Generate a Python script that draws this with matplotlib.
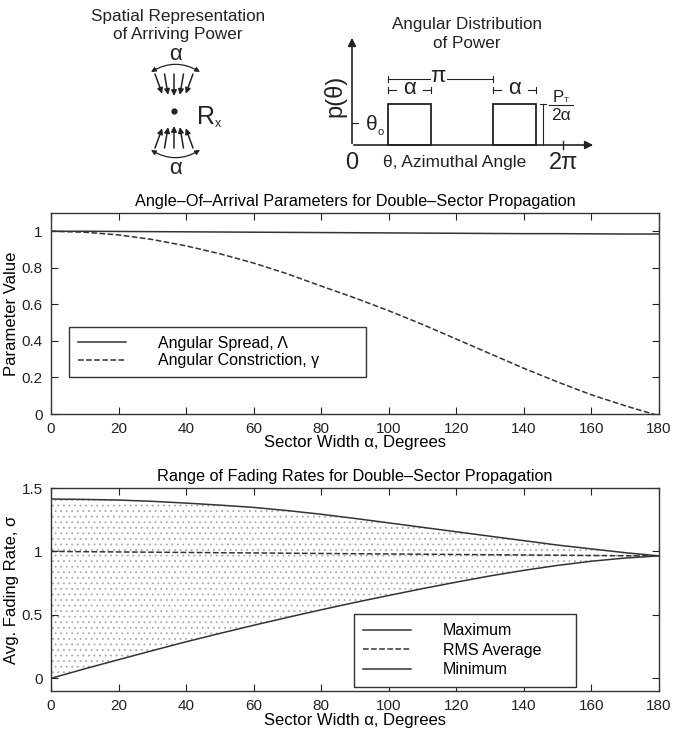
import numpy as np
import matplotlib
matplotlib.use('Agg')
import matplotlib.pyplot as plt
from matplotlib.patches import FancyArrowPatch, Rectangle

plt.rcParams['font.family'] = ['Liberation Sans', 'DejaVu Sans']
plt.rcParams['hatch.linewidth'] = 0.6

# sector width, degrees
sector_width = [0, 10, 20, 30, 40, 50, 60, 70, 80, 90, 100, 110, 120, 130, 140, 150, 160, 170, 180]

# angle-of-arrival parameters
angular_spread = [1.0, 1.0, 0.999, 0.998, 0.997, 0.996, 0.995, 0.994, 0.993, 0.992,
                  0.991, 0.99, 0.989, 0.988, 0.987, 0.987, 0.986, 0.985, 0.985]
angular_constriction = [1.0, 0.995, 0.98, 0.955, 0.92, 0.877, 0.826, 0.767, 0.70, 0.635,
                        0.565, 0.49, 0.41, 0.33, 0.25, 0.175, 0.105, 0.045, -0.01]

# fading rates
rate_max = [1.413, 1.41, 1.405, 1.395, 1.381, 1.365, 1.347, 1.322, 1.293, 1.26,
            1.225, 1.19, 1.155, 1.12, 1.085, 1.05, 1.02, 0.99, 0.965]
rate_rms = [1.0, 0.998, 0.996, 0.994, 0.992, 0.99, 0.988, 0.986, 0.984, 0.982,
            0.98, 0.978, 0.976, 0.974, 0.972, 0.970, 0.968, 0.966, 0.964]
rate_min = [0.0, 0.075, 0.147, 0.218, 0.288, 0.354, 0.418, 0.48, 0.54, 0.598,
            0.653, 0.707, 0.758, 0.807, 0.851, 0.89, 0.923, 0.948, 0.965]

xticks = [0, 20, 40, 60, 80, 100, 120, 140, 160, 180]

W, H = 673, 736
fig = plt.figure(figsize=(W / 100, H / 100), dpi=100)

# ---- schematic sketches drawn on a pixel-coordinate overlay ----
sk = fig.add_axes([0, 0, 1, 1])
sk.set_xlim(0, W)
sk.set_ylim(H, 0)
sk.axis('off')

ink = '#222222'
txt = dict(ha='center', va='center', color=ink)

# left: spatial representation
sk.text(178, 17, 'Spatial Representation', fontsize=12.3, **txt)
sk.text(178, 35, 'of Arriving Power', fontsize=12.3, **txt)
cx, cy = 174, 111
sk.plot(cx, cy, 'o', color=ink, ms=3.5)
sk.text(206, 117, 'R', fontsize=18, **txt)
sk.text(218, 124, 'x', fontsize=9, **txt)
for side in (-1, 1):
    for dx in (-19, -9.5, 0, 9.5, 19):
        tail = (cx + dx, cy + side * 37)
        head = (cx + dx * 0.62, cy + side * (15 + abs(dx) * 0.12))
        sk.annotate('', xy=head, xytext=tail,
                    arrowprops=dict(arrowstyle='-|>', lw=1.1, color=ink,
                                    mutation_scale=8, shrinkA=0, shrinkB=0))
    ya = cy + side * 39
    arc = FancyArrowPatch((151, ya), (200, ya), arrowstyle='<|-|>', mutation_scale=7,
                          connectionstyle='arc3,rad=%.2f' % (0.3 * side), lw=0.9, color=ink,
                          shrinkA=0, shrinkB=0)
    sk.add_patch(arc)
    sk.text(cx + 1, cy + side * 57, 'α', fontsize=16, **txt)

# right: angular distribution of power
ox, oy = 352, 145
scale = 211 / (2 * np.pi)
theta0 = 1.07
alpha = 1.28
box_h = 41
sk.text(467, 25, 'Angular Distribution', fontsize=12.3, **txt)
sk.text(467, 43, 'of Power', fontsize=12.3, **txt)
sk.annotate('', xy=(ox, 35), xytext=(ox, oy + 1),
            arrowprops=dict(arrowstyle='-|>', lw=1.2, color=ink, mutation_scale=12))
sk.annotate('', xy=(596, oy), xytext=(ox - 1, oy),
            arrowprops=dict(arrowstyle='-|>', lw=1.2, color=ink, mutation_scale=12))
for start in (theta0, theta0 + np.pi):
    sk.add_patch(Rectangle((ox + start * scale, oy - box_h), alpha * scale, box_h,
                           fill=False, lw=1.3, ec=ink))
x1 = ox + theta0 * scale
x2 = ox + (theta0 + np.pi) * scale
# pi dimension
sk.plot([x1, x1], [76, 82], color=ink, lw=0.8)
sk.plot([x2, x2], [76, 82], color=ink, lw=0.8)
sk.plot([x1, 430], [79, 79], color=ink, lw=0.8)
sk.plot([447, x2], [79, 79], color=ink, lw=0.8)
sk.text(438, 77, 'π', fontsize=16, **txt)
# alpha dimensions
for xs in (x1, x2):
    xe = xs + alpha * scale
    sk.plot([xs, xs], [87, 93], color=ink, lw=0.8)
    sk.plot([xe, xe], [87, 93], color=ink, lw=0.8)
    sk.plot([xs, xs + 8], [90, 90], color=ink, lw=0.8)
    sk.plot([xe - 8, xe], [90, 90], color=ink, lw=0.8)
    sk.text((xs + xe) / 2, 89, 'α', fontsize=16, **txt)
# theta0 dimension
sk.plot([ox, ox + 6], [123, 123], color=ink, lw=0.8)
sk.text(372, 124, 'θ', fontsize=15, **txt)
sk.text(381, 132, 'o', fontsize=8, **txt)
# P_T / 2 alpha
xp = 543
sk.plot([xp, xp], [oy - box_h, oy], color=ink, lw=0.8)
sk.plot([xp - 3, xp + 3], [oy - box_h, oy - box_h], color=ink, lw=0.8)
sk.text(558, 97, 'P', fontsize=12, **txt)
sk.text(566, 101, 'T', fontsize=6, **txt)
sk.plot([549, 573], [105, 105], color=ink, lw=0.8)
sk.text(561, 115, '2α', fontsize=12.5, **txt)
sk.plot([ox + 2 * np.pi * scale] * 2, [oy - 4, oy + 4], color=ink, lw=1)
sk.text(ox, 163, '0', fontsize=17, **txt)
sk.text(455, 162, 'θ, Azimuthal Angle', fontsize=12.5, **txt)
sk.text(564, 163, '2π', fontsize=17, **txt)
sk.text(335, 96, 'p(θ)', fontsize=17, rotation=90, **txt)


def style_axes(ax):
    ax.tick_params(direction='in', top=True, right=True, labelsize=11, length=5,
                   colors=ink, pad=6)
    for s in ax.spines.values():
        s.set_linewidth(1.0)
        s.set_color('#333333')
    ax.set_xlim(0, 180)
    ax.set_xticks(xticks)


leg_style = dict(loc='lower left', mode='expand', borderaxespad=0, fontsize=11.5,
                 frameon=True, fancybox=False, edgecolor='#333333', framealpha=1,
                 handlelength=3, handletextpad=2)

# ---- angle-of-arrival parameters ----
ax1 = fig.add_axes([51 / W, 1 - 414 / H, 608 / W, 201 / H])
ax1.plot(sector_width, angular_spread, '-', color='#333333', lw=1.1, label='Angular Spread, Λ')
ax1.plot(sector_width, angular_constriction, '--', color='#333333', lw=1.1, label='Angular Constriction, γ')
style_axes(ax1)
ax1.set_ylim(0, 1.1)
ax1.set_yticks([0, 0.2, 0.4, 0.6, 0.8, 1])
ax1.set_yticklabels(['0', '0.2', '0.4', '0.6', '0.8', '1'])
ax1.set_xlabel('Sector Width α, Degrees', fontsize=12, labelpad=-1)
ax1.set_ylabel('Parameter Value', fontsize=12, labelpad=2)
ax1.set_title('Angle–Of–Arrival Parameters for Double–Sector Propagation', fontsize=11.7, pad=5)
leg1 = ax1.legend(bbox_to_anchor=(0.03, 0.184, 0.488, 0.27), borderpad=0.55,
                  labelspacing=0.15, **leg_style)
leg1.get_frame().set_linewidth(1.0)

# ---- fading rates ----
ax2 = fig.add_axes([51 / W, 1 - 691 / H, 608 / W, 203 / H])
ax2.fill_between(sector_width, rate_min, rate_max, facecolor='none', edgecolor='#a8a8a8',
                 hatch='...', lw=0)
ax2.plot(sector_width, rate_max, '-', color='#333333', lw=1.1, label='Maximum')
ax2.plot(sector_width, rate_rms, '--', color='#333333', lw=1.1, label='RMS Average')
ax2.plot(sector_width, rate_min, '-', color='#333333', lw=1.1, label='Minimum')
style_axes(ax2)
ax2.set_ylim(-0.1, 1.5)
ax2.set_yticks([0, 0.5, 1, 1.5])
ax2.set_yticklabels(['0', '0.5', '1', '1.5'])
ax2.set_xlabel('Sector Width α, Degrees', fontsize=12, labelpad=0)
ax2.set_ylabel('Avg. Fading Rate, σ', fontsize=12, labelpad=2)
ax2.set_title('Range of Fading Rates for Double–Sector Propagation', fontsize=11.7, pad=5)
leg2 = ax2.legend(bbox_to_anchor=(0.498, 0.02, 0.365, 0.39), borderpad=0.6,
                  labelspacing=0.28, **leg_style)
leg2.get_frame().set_linewidth(1.0)

fig.savefig('out.png', dpi=100)
